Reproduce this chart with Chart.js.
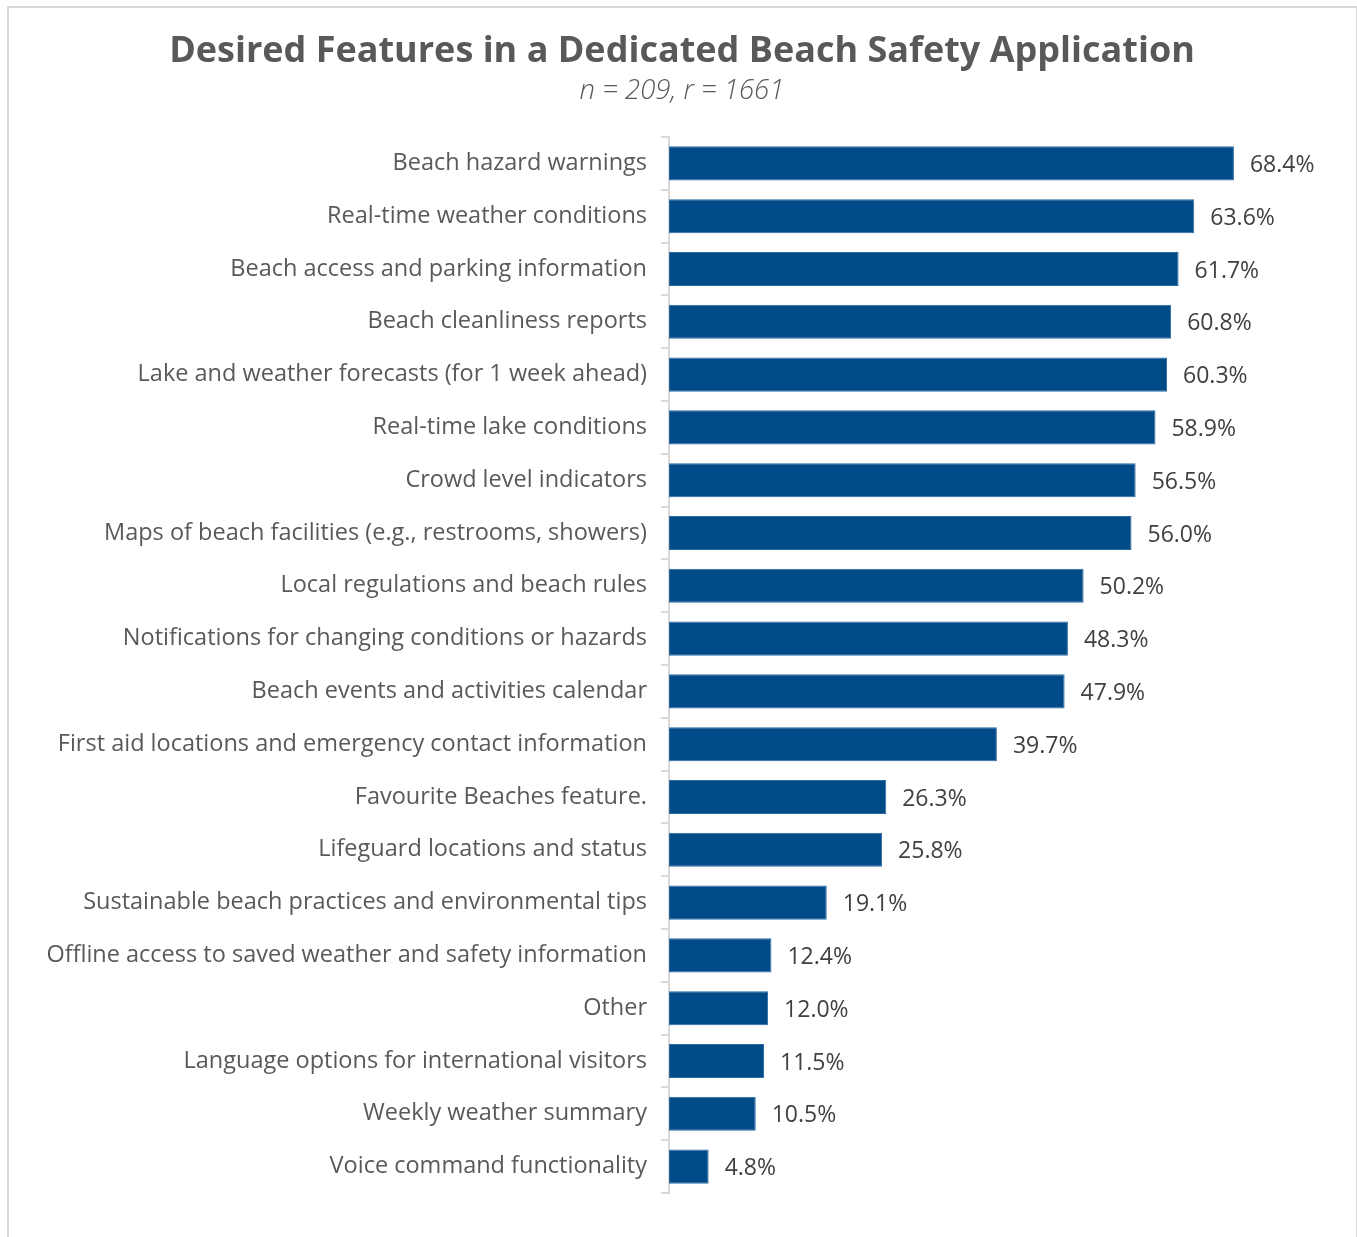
<!DOCTYPE html>
<html>
<head>
<meta charset="utf-8">
<title>Desired Features in a Dedicated Beach Safety Application</title>
<script src="https://cdn.jsdelivr.net/npm/chart.js@4/dist/chart.umd.min.js"></script>
<style>
  html, body { margin: 0; padding: 0; background: #ffffff; overflow: hidden; }
  #wrap { position: relative; width: 1357px; height: 1237px; }
  #frame {
    position: absolute; left: 7px; top: 6px; width: 1347px; height: 1260px;
    border: 2px solid #d9d9d9; pointer-events: none;
  }
  canvas { position: absolute; left: 0; top: 0; }
</style>
</head>
<body>
<div id="wrap">
  <canvas id="chart" width="1357" height="1237"></canvas>
  <div id="frame"></div>
</div>
<script>
// Survey features, ordered from most to least desired
const features = [
  "Beach hazard warnings",
  "Real-time weather conditions",
  "Beach access and parking information",
  "Beach cleanliness reports",
  "Lake and weather forecasts (for 1 week ahead)",
  "Real-time lake conditions",
  "Crowd level indicators",
  "Maps of beach facilities (e.g., restrooms, showers)",
  "Local regulations and beach rules",
  "Notifications for changing conditions or hazards",
  "Beach events and activities calendar",
  "First aid locations and emergency contact information",
  "Favourite Beaches feature.",
  "Lifeguard locations and status",
  "Sustainable beach practices and environmental tips",
  "Offline access to saved weather and safety information",
  "Other",
  "Language options for international visitors",
  "Weekly weather summary",
  "Voice command functionality"
];

// Share of respondents selecting each feature (%)
const shares = [68.4, 63.6, 61.7, 60.8, 60.3, 58.9, 56.5, 56.0, 50.2, 48.3, 47.9, 39.7, 26.3, 25.8, 19.1, 12.4, 12.0, 11.5, 10.5, 4.8];

const titleText = "Desired Features in a Dedicated Beach Safety Application";
const subtitleText = "n = 209, r = 1661";

const FONT = "'Open Sans', Lato, 'DejaVu Sans', sans-serif";

// Writes the percentage just past the end of each bar
const valueLabels = {
  id: "valueLabels",
  afterDatasetsDraw(chart) {
    const ctx = chart.ctx;
    const meta = chart.getDatasetMeta(0);
    const values = chart.data.datasets[0].data;
    ctx.save();
    ctx.font = "23px " + FONT;
    ctx.fillStyle = "#404040";
    ctx.textAlign = "left";
    ctx.textBaseline = "middle";
    meta.data.forEach((bar, i) => {
      ctx.fillText(values[i].toFixed(1) + "%", bar.x + 16, bar.y + 2);
    });
    ctx.restore();
  }
};

new Chart(document.getElementById("chart"), {
  type: "bar",
  data: {
    labels: features,
    datasets: [{
      data: shares,
      backgroundColor: "#004a87",
      borderColor: "#2b6aa3",
      borderWidth: 1,
      borderSkipped: false,
      barPercentage: 0.645,
      categoryPercentage: 1.0
    }]
  },
  options: {
    indexAxis: "y",
    responsive: false,
    animation: false,
    layout: { padding: { top: 6, left: 7, right: 0, bottom: 44 } },
    plugins: {
      legend: { display: false },
      tooltip: { enabled: false },
      title: {
        display: true,
        text: titleText,
        color: "#595959",
        font: { family: FONT, size: 36, weight: "bold" },
        padding: { top: 24.4, bottom: 0 }
      },
      subtitle: {
        display: true,
        text: subtitleText,
        color: "#595959",
        font: { family: FONT, size: 27.5, style: "italic", weight: 300 },
        padding: { top: 0.9, bottom: 29.5 }
      }
    },
    scales: {
      x: {
        display: false,
        min: 0,
        max: 83.3
      },
      y: {
        afterFit(scale) { scale.width = 662; },
        grid: {
          drawOnChartArea: false,
          drawTicks: true,
          tickLength: 8,
          color: "#d9d9d9",
          lineWidth: 2
        },
        border: { display: true, color: "#d9d9d9", width: 2 },
        ticks: {
          color: "#595959",
          padding: 14,
          autoSkip: false,
          font: { family: FONT, size: 23.5 }
        }
      }
    }
  },
  plugins: [valueLabels]
});
</script>
</body>
</html>
